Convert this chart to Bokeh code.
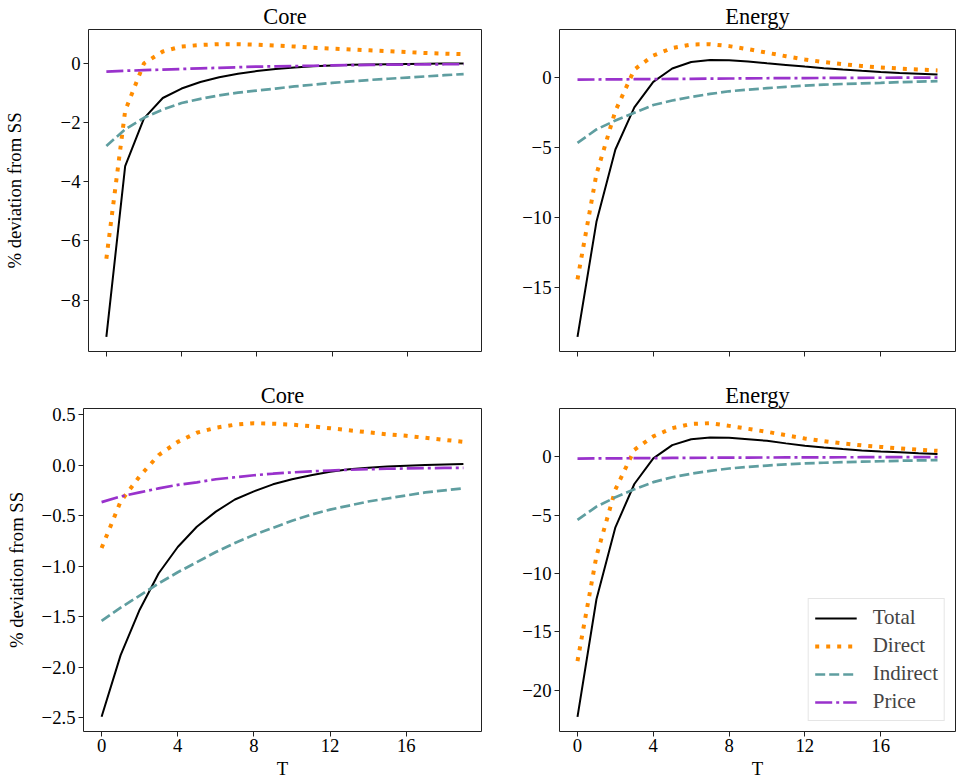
from bokeh.plotting import figure
from bokeh.layouts import column, row
from bokeh.models import (Range1d, FixedTicker, CustomJSTickFormatter,
                          Legend, LegendItem)
from bokeh.embed import file_html
from bokeh.resources import INLINE

# ---------------- data ----------------
T = list(range(20))

# top row (scenario 1)
core1_total = [-9.24, -3.47, -1.86, -1.17, -0.85, -0.63, -0.47, -0.35, -0.26, -0.19,
               -0.14, -0.10, -0.07, -0.05, -0.04, -0.03, -0.02, -0.01, -0.005, 0.0]
core1_direct = [-6.6, -1.6, 0.0, 0.40, 0.57, 0.62, 0.65, 0.65, 0.63, 0.60,
                0.57, 0.53, 0.50, 0.47, 0.44, 0.41, 0.38, 0.35, 0.33, 0.31]
core1_indirect = [-2.79, -2.23, -1.84, -1.56, -1.34, -1.20, -1.08, -0.99, -0.92, -0.85,
                  -0.78, -0.72, -0.66, -0.61, -0.56, -0.52, -0.48, -0.44, -0.40, -0.36]
core1_price = [-0.28, -0.25, -0.23, -0.21, -0.19, -0.17, -0.15, -0.13, -0.11, -0.10,
               -0.09, -0.08, -0.07, -0.06, -0.05, -0.045, -0.04, -0.035, -0.03, -0.03]

energy1_total = [-18.5, -10.3, -5.15, -2.15, -0.33, 0.62, 1.09, 1.23, 1.22, 1.13,
                 1.0, 0.88, 0.76, 0.65, 0.55, 0.46, 0.38, 0.31, 0.25, 0.19]
energy1_direct = [-14.4, -6.9, -2.4, 0.55, 1.55, 2.08, 2.33, 2.36, 2.22, 2.0,
                  1.75, 1.5, 1.27, 1.08, 0.93, 0.8, 0.7, 0.62, 0.55, 0.49]
energy1_indirect = [-4.67, -3.72, -3.08, -2.53, -1.98, -1.66, -1.40, -1.19, -1.0, -0.88,
                    -0.78, -0.68, -0.59, -0.53, -0.48, -0.44, -0.40, -0.35, -0.31, -0.28]
energy1_price = [-0.17, -0.16, -0.15, -0.14, -0.13, -0.12, -0.11, -0.10, -0.09, -0.08,
                 -0.07, -0.06, -0.055, -0.05, -0.045, -0.04, -0.035, -0.03, -0.025, -0.02]

# bottom row (scenario 2)
core2_total = [-2.49, -1.88, -1.43, -1.07, -0.81, -0.61, -0.46, -0.34, -0.26, -0.19,
               -0.14, -0.10, -0.065, -0.04, -0.025, -0.013, -0.005, 0.002, 0.007, 0.012]
core2_direct = [-0.82, -0.36, -0.11, 0.10, 0.23, 0.32, 0.37, 0.40, 0.415, 0.41,
                0.40, 0.385, 0.365, 0.345, 0.325, 0.305, 0.29, 0.27, 0.25, 0.23]
core2_indirect = [-1.54, -1.41, -1.29, -1.17, -1.06, -0.96, -0.86, -0.77, -0.69, -0.62,
                  -0.55, -0.49, -0.44, -0.40, -0.36, -0.33, -0.30, -0.27, -0.25, -0.23]
core2_price = [-0.366, -0.31, -0.27, -0.23, -0.195, -0.17, -0.14, -0.12, -0.10, -0.085,
               -0.072, -0.062, -0.053, -0.046, -0.04, -0.036, -0.033, -0.03, -0.028, -0.027]

energy2_total = [-22.27, -12.2, -6.04, -2.33, -0.14, 1.0, 1.51, 1.66, 1.63, 1.5,
                 1.37, 1.15, 0.94, 0.79, 0.66, 0.55, 0.46, 0.38, 0.3, 0.23]
energy2_direct = [-17.5, -8.5, -2.8, 0.6, 1.75, 2.45, 2.82, 2.88, 2.65, 2.4,
                  2.14, 1.85, 1.57, 1.34, 1.14, 0.98, 0.85, 0.72, 0.61, 0.51]
energy2_indirect = [-5.41, -4.27, -3.47, -2.78, -2.17, -1.75, -1.45, -1.2, -1.0, -0.86,
                    -0.75, -0.65, -0.57, -0.51, -0.46, -0.42, -0.38, -0.34, -0.31, -0.28]
energy2_price = [-0.15, -0.14, -0.13, -0.12, -0.11, -0.10, -0.09, -0.08, -0.07, -0.065,
                 -0.06, -0.055, -0.05, -0.045, -0.04, -0.035, -0.03, -0.025, -0.02, -0.02]

series_names = ["Total", "Direct", "Indirect", "Price"]
x_ticks = [0, 4, 8, 12, 16]
core1_ticks = [-8, -6, -4, -2, 0]
energy1_ticks = [-15, -10, -5, 0]
core2_ticks = [-2.5, -2.0, -1.5, -1.0, -0.5, 0.0, 0.5]
energy2_ticks = [-20, -15, -10, -5, 0]

# ---------------- style ----------------
FONT = "Liberation Serif"
STYLES = [dict(line_color="black", line_width=2),
          dict(line_color="#ff8c00", line_width=4, line_dash="4 7"),
          dict(line_color="#5f9ea0", line_width=2.7, line_dash="10 4"),
          dict(line_color="#9932cc", line_width=2.7, line_dash="17 4 3 4")]
FRAME = "#222222"


def panel(title, series, yticks, decimals, width, height, mbl, mbr, mbt, mbb,
          bottom_row, ylabel=None, ylabel_standoff=8, legend=False):
    allv = [v for s in series for v in s]
    lo, hi = min(allv), max(allv)
    pad = 0.05 * (hi - lo)
    xlo, xhi = min(T), max(T)
    xpad = 0.05 * (xhi - xlo)
    p = figure(width=width, height=height,
               x_range=Range1d(xlo - xpad, xhi + xpad),
               y_range=Range1d(lo - pad, hi + pad),
               output_backend="svg", toolbar_location=None,
               min_border_left=mbl, min_border_right=mbr,
               min_border_top=mbt, min_border_bottom=mbb)
    p.xgrid.visible = False
    p.ygrid.visible = False
    p.background_fill_color = "white"
    p.border_fill_color = "white"
    p.outline_line_color = FRAME
    p.outline_line_width = 1

    p.title.text = title
    p.title.align = "center"
    p.title.text_font = FONT
    p.title.text_font_size = "22.4px"
    p.title.text_font_style = "normal"
    p.title.text_color = "black"
    p.title.standoff = 2

    renderers = []
    for s, st in zip(series, STYLES):
        r = p.line(T, s, **st)
        renderers.append(r)

    for ax in (p.xaxis[0], p.yaxis[0]):
        ax.axis_line_color = None
        ax.major_tick_in = 0
        ax.major_tick_out = 5
        ax.major_tick_line_color = FRAME
        ax.major_tick_line_width = 1
        ax.minor_tick_line_color = None
        ax.major_label_text_font = FONT
        ax.major_label_text_font_size = "18.7px"
        ax.major_label_text_color = "black"
        ax.axis_label_text_font = FONT
        ax.axis_label_text_font_size = "18.7px"
        ax.axis_label_text_font_style = "normal"
        ax.axis_label_text_color = "black"

    p.xaxis.ticker = FixedTicker(ticks=x_ticks, minor_ticks=[])
    p.yaxis.ticker = FixedTicker(ticks=yticks, minor_ticks=[])
    p.yaxis.formatter = CustomJSTickFormatter(
        code="return tick.toFixed(%d).replace('-', '\u2212');" % decimals)
    p.yaxis.major_label_standoff = 3
    p.xaxis.major_label_standoff = 2
    if bottom_row:
        p.xaxis.axis_label = "T"
        p.xaxis.axis_label_standoff = 3
    else:
        p.xaxis.formatter = CustomJSTickFormatter(code="return '';")
    if ylabel:
        p.yaxis.axis_label = ylabel
        p.yaxis.axis_label_standoff = ylabel_standoff

    if legend:
        lg = Legend(items=[LegendItem(label=n, renderers=[r])
                           for n, r in zip(series_names, renderers)],
                    location="bottom_right")
        lg.label_text_font = FONT
        lg.label_text_font_size = "21px"
        lg.glyph_width = 42
        lg.glyph_height = 20
        lg.label_height = 20
        lg.spacing = 3
        lg.padding = 6
        lg.margin = 10
        lg.label_standoff = 16
        lg.border_line_color = "#cccccc"
        lg.border_line_width = 1
        lg.background_fill_alpha = 0.8
        p.add_layout(lg)
    return p


YL = "% deviation from SS"
p1 = panel("Core", [core1_total, core1_direct, core1_indirect, core1_price],
           core1_ticks, 0, 515, 378, 83, 34, 28, 27, False, YL, 33)
p2 = panel("Energy", [energy1_total, energy1_direct, energy1_indirect, energy1_price],
           energy1_ticks, 0, 441, 378, 44, 1, 28, 27, False)
p3 = panel("Core", [core2_total, core2_direct, core2_indirect, core2_price],
           core2_ticks, 1, 515, 403, 83, 34, 30, 49, True, YL, 12)
p4 = panel("Energy", [energy2_total, energy2_direct, energy2_indirect, energy2_price],
           energy2_ticks, 0, 441, 403, 44, 1, 30, 49, True, legend=True)

layout = column(row(p1, p2), row(p3, p4))
open("out.html", "w").write(file_html(layout, INLINE))
